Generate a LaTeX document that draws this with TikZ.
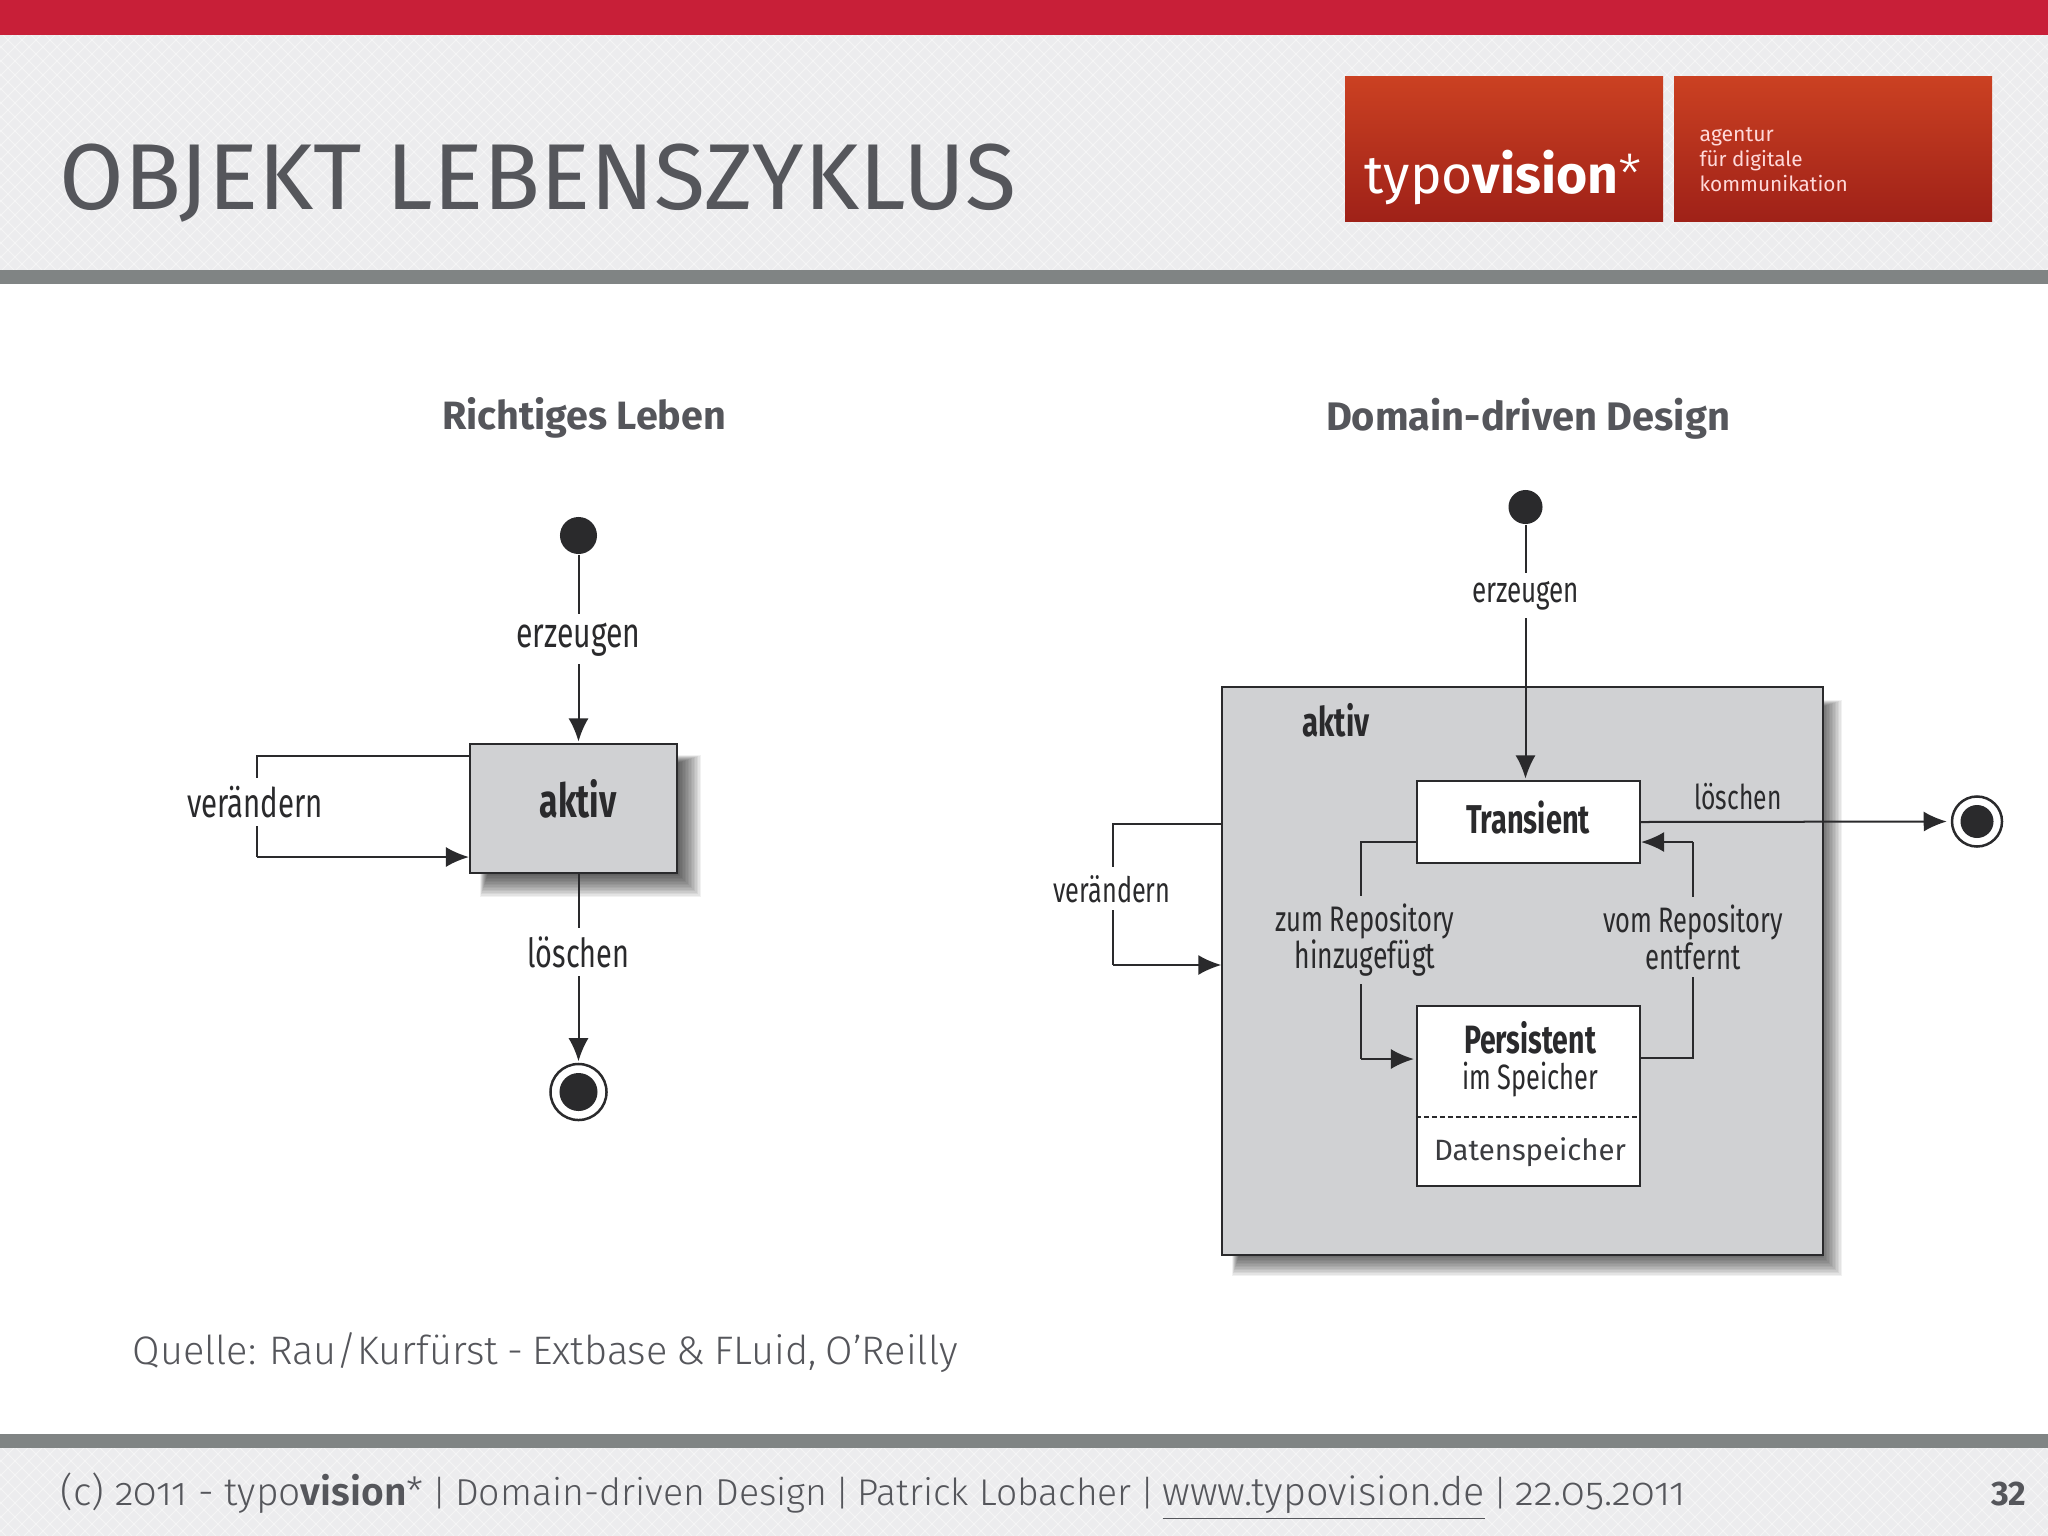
\documentclass[tikz,border=0pt]{standalone}
\usepackage{graphicx}
\usepackage{fontspec}
\usetikzlibrary{arrows.meta}
\setmainfont{Fira Sans}
\newfontfamily\lightf[UprightFont=* Light,BoldFont=* SemiBold,Numbers=OldStyle]{Fira Sans}
\newfontfamily\cond[FakeStretch=0.72]{Fira Sans}
\newfontfamily\regf{Fira Sans}
\newlength{\pxu}\setlength{\pxu}{0.01cm}
\newcommand{\fitw}[2]{\resizebox{#1\pxu}{!}{#2}}
\newcommand{\footbar}[1]{\makebox[#1\pxu][c]{\fontsize{10}{12}\selectfont |}}
\definecolor{redbar}{HTML}{C81F38}
\definecolor{greybar}{HTML}{808484}
\definecolor{paper}{HTML}{ECECEE}
\definecolor{slatetext}{HTML}{55565B}
\definecolor{ink}{HTML}{2A2A2C}
\definecolor{panel}{HTML}{D0D1D3}
\definecolor{logotop}{HTML}{CB4122}
\definecolor{logobot}{HTML}{9F2118}
\tikzset{
  x=0.01cm,y=-0.01cm,
  band/.style={fill=#1,draw=none},
  logobox/.style={top color=logotop,bottom color=logobot,draw=none},
  state/.style={draw=ink,line width=0.02cm,fill=panel,rectangle,inner sep=0pt},
  whitestate/.style={state,fill=white},
  startdot/.style={circle,fill=ink,draw=none,inner sep=0pt},
  endring/.style={circle,fill=white,draw=ink,line width=0.025cm,inner sep=0pt},
  wire/.style={draw=ink,line width=0.02cm},
  flow/.style={wire,-{Latex[length=0.23cm,width=0.2cm]},shorten >=0cm},
  downflow/.style={flow,shorten >=0.015cm},
  label/.style={anchor=base,inner xsep=0.03cm,inner ysep=0.08cm,text=ink,font=\cond},
  wlabel/.style={label,fill=white},
  glabel/.style={label,fill=panel},
  twolines/.style={glabel,anchor=center,align=center,font=\cond\fontsize{10}{10.5}\selectfont},
  plain/.style={anchor=base,inner sep=0pt,text=ink,font=\cond},
  slide/.style={anchor=base west,inner sep=0pt,text=slatetext,font=\lightf},
  heading/.style={anchor=base,inner sep=0pt,text=slatetext,font=\regf\bfseries},
}
\begin{document}
\begin{tikzpicture}
\useasboundingbox (0,0) rectangle (2048,1536);
\fill[white] (0,0) rectangle (2048,1536);
% header and footer bands
\fill[band=paper] (0,35) rectangle (2048,270);
\fill[band=paper] (0,1448) rectangle (2048,1536);
\begin{scope}
\clip (0,35) rectangle (2048,270) (0,1448) rectangle (2048,1536);
\foreach \i in {-1600,-1586,...,2048} {
  \draw[white,opacity=.45,line width=0.008cm] (\i,0) -- (\i+1536,1536);
  \draw[white,opacity=.45,line width=0.008cm] (\i+1536,0) -- (\i,1536);
}
\end{scope}
\fill[band=redbar] (0,0) rectangle (2048,35);
\fill[band=greybar] (0,270) rectangle (2048,284);
\fill[band=greybar] (0,1434) rectangle (2048,1448);
% title and logos
\node[slide,font=\regf] (title) at (59,209) {\fitw{956}{OBJEKT LEBENSZYKLUS}};
\fill[logobox] (1345,76) rectangle (1663,221);
\fill[logobox] (1674,76) rectangle (1992,221);
\node[anchor=base west,inner sep=0pt,text=white] (logo) at (1364,193) {\fitw{277}{{\regf typo}{\bfseries vision}{\lightf *}}};
\node[anchor=base west,inner sep=0pt,text=white!85!red] (ag1) at (1699,141) {\fitw{74}{agentur}};
\node[anchor=base west,inner sep=0pt,text=white!85!red] (ag2) at (1699,166) {\fitw{103}{für digitale}};
\node[anchor=base west,inner sep=0pt,text=white!85!red] (ag3) at (1699,191) {\fitw{148}{kommunikation}};
% headings
\node[heading] (h1) at (584,429) {\fitw{284}{Richtiges Leben}};
\node[heading] (h2) at (1528,430) {\fitw{404}{Domain-driven Design}};
% left shadow
\foreach \i in {0,...,15}
  \fill[black,opacity=.055] (480+\i*0.5,755+\i*0.5) rectangle (701-\i*1.5,897-\i*1.5);
% left diagram
\node[state,minimum width=2.07cm,minimum height=1.29cm] (a1) at (573.5,808.5) {};
\node[startdot,minimum size=0.37cm] (s1) at (578.5,535.5) {};
\node[endring,minimum size=0.56cm] (e1) at (578.5,1092) {};
\node[startdot,minimum size=0.38cm] (e1i) at (578.5,1092) {};
\coordinate (lt) at (257,756);
\coordinate (lb) at (257,857);
\draw[downflow] (s1) -- (s1 |- a1.north);
\draw[downflow] (a1.south -| s1) -- (e1.north);
\draw[wire] (lt -| a1.west) -- (lt) -- (lb);
\draw[flow] (lb) -- (lb -| a1.west);
\node[wlabel] (l1) at (578.5,647) {\fitw{124}{erzeugen}};
\node[wlabel] (l2) at (255,817) {\fitw{136}{verändern}};
\node[wlabel] (l3) at (578.5,967) {\fitw{102}{löschen}};
\node[plain,font=\cond\bfseries] (l4) at (578,817) {\fitw{77}{aktiv}};
% right shadow
\foreach \i in {0,...,15}
  \fill[black,opacity=.055] (1232+\i*0.5,700+\i*0.5) rectangle (1842-\i*1.5,1276-\i*1.5);
% right diagram
\node[state,minimum width=6cm,minimum height=5.68cm] (a2) at (1522.5,971) {};
\node[whitestate,minimum width=2.23cm,minimum height=0.82cm] (tr) at (1528.5,822) {};
\node[whitestate,minimum width=2.23cm,minimum height=1.8cm] (pe) at (1528.5,1096) {};
\node[startdot,minimum size=0.34cm] (s2) at (1525.5,507) {};
\node[endring,minimum size=0.5cm] (e2) at (1977,821.5) {};
\node[startdot,minimum size=0.33cm] (e2i) at (1977,821.5) {};
\coordinate (vt) at (1113,824);
\coordinate (vb) at (1113,965);
\coordinate (dl) at (0,1117);
\coordinate (zt) at (1361,842);
\coordinate (zb) at (1361,1059);
\coordinate (vrt) at (1693,842);
\coordinate (vrb) at (1693,1058);
\draw[downflow] (s2) -- (s2 |- tr.north);
\draw[flow,shorten >=0.04cm] (tr.east) -- (e2.west);
\draw[wire] (vt -| a2.west) -- (vt) -- (vb);
\draw[flow] (vb) -- (vb -| a2.west);
\draw[wire] (zt -| tr.west) -- (zt) -- (zb);
\draw[flow,shorten >=0.02cm] (zb) -- (zb -| pe.west);
\draw[wire] (vrb -| pe.east) -- (vrb) -- (vrt);
\draw[flow] (vrt) -- (vrt -| tr.east);
\draw[wire,dashed,line width=0.015cm,dash pattern=on 0.05cm off 0.03cm] (dl -| pe.west) -- (dl -| pe.east);
\node[wlabel] (r1) at (1525.5,602) {\fitw{107}{erzeugen}};
\node[wlabel] (r2) at (1112,902) {\fitw{117}{verändern}};
\node[plain,font=\cond\bfseries] (r3) at (1336,736) {\fitw{67}{aktiv}};
\node[plain,font=\cond\bfseries] (r4) at (1528,833) {\fitw{124}{Transient}};
\node[plain] (r5) at (1738,809) {\fitw{87}{löschen}};
\node[twolines] (r6) at (1365,940) {\fitw{179}{zum Repository}\\\fitw{141}{hinzugefügt}};
\node[twolines] (r8) at (1693,937) {\fitw{180}{vom Repository}\\\fitw{95}{entfernt}};
\node[plain,font=\cond\bfseries] (r10) at (1530,1053) {\fitw{132}{Persistent}};
\node[plain] (r11) at (1530,1089) {\fitw{136}{im Speicher}};
\node[plain,font=\regf,text=slatetext!70!black] (r12) at (1530,1160) {\fitw{192}{Datenspeicher}};
% source and footer
\node[slide] (src) at (132,1364) {\fitw{825}{\spaceskip=0.8\fontdimen2\font Quelle: Rau/Kurfürst - Extbase \& FLuid, O’Reilly}};
\node[slide] (foot) at (60,1505) {\fitw{363}{(c) 2011 - typo{\bfseries vision}*}\footbar{31.5}\fitw{372.5}{Domain-driven Design}\footbar{30}\fitw{274}{Patrick Lobacher}\footbar{31}\fitw{322}{\underline{www.typovision.de}}\footbar{31}\fitw{170}{22.05.2011}};
\node[anchor=base east,inner sep=0pt,text=slatetext] (page) at (2027,1505) {\fitw{35}{\bfseries 32}};
\end{tikzpicture}
\end{document}
